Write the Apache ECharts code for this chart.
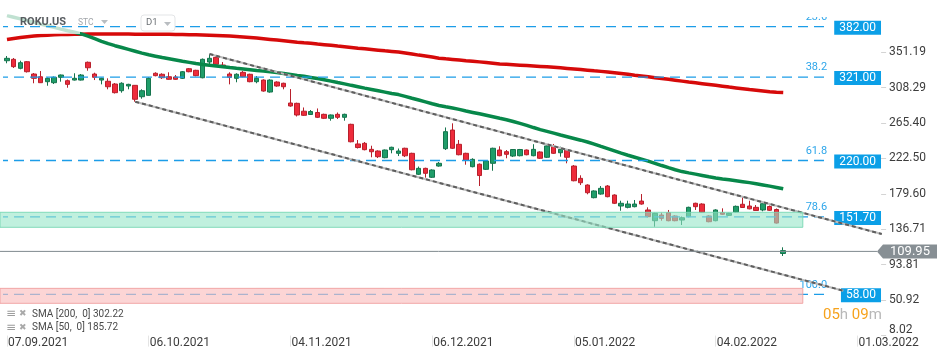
<!DOCTYPE html>
<html><head><meta charset="utf-8">
<script src="https://cdn.jsdelivr.net/npm/echarts@6/dist/echarts.min.js"></script>
<style>html,body{margin:0;padding:0;background:#fff}#c{width:950px;height:360px}</style>
</head><body><div id="c"></div>
<script>
// ---------- DATA ----------
const dates = [
'07.09.2021','08.09.2021','09.09.2021','10.09.2021','13.09.2021','14.09.2021','15.09.2021','16.09.2021','17.09.2021','20.09.2021',
'21.09.2021','22.09.2021','23.09.2021','24.09.2021','27.09.2021','28.09.2021','29.09.2021','30.09.2021','01.10.2021','04.10.2021',
'05.10.2021','06.10.2021','07.10.2021','08.10.2021','11.10.2021','12.10.2021','13.10.2021','14.10.2021','15.10.2021','18.10.2021',
'19.10.2021','20.10.2021','21.10.2021','22.10.2021','25.10.2021','26.10.2021','27.10.2021','28.10.2021','29.10.2021','01.11.2021',
'02.11.2021','03.11.2021','04.11.2021','05.11.2021','08.11.2021','09.11.2021','10.11.2021','11.11.2021','12.11.2021','15.11.2021',
'16.11.2021','17.11.2021','18.11.2021','19.11.2021','22.11.2021','23.11.2021','24.11.2021','26.11.2021','29.11.2021','30.11.2021',
'01.12.2021','02.12.2021','03.12.2021','06.12.2021','07.12.2021','08.12.2021','09.12.2021','10.12.2021','13.12.2021','14.12.2021',
'15.12.2021','16.12.2021','17.12.2021','20.12.2021','21.12.2021','22.12.2021','23.12.2021','27.12.2021','28.12.2021','29.12.2021',
'30.12.2021','31.12.2021','03.01.2022','04.01.2022','05.01.2022','06.01.2022','07.01.2022','10.01.2022','11.01.2022','12.01.2022',
'13.01.2022','14.01.2022','18.01.2022','19.01.2022','20.01.2022','21.01.2022','24.01.2022','25.01.2022','26.01.2022','27.01.2022',
'28.01.2022','31.01.2022','01.02.2022','02.02.2022','03.02.2022','04.02.2022','07.02.2022','08.02.2022','09.02.2022','10.02.2022',
'11.02.2022','14.02.2022','15.02.2022','16.02.2022','17.02.2022','18.02.2022','19.02.2022','20.02.2022','21.02.2022','22.02.2022',
'23.02.2022','24.02.2022','25.02.2022','26.02.2022','27.02.2022','28.02.2022','01.03.2022','02.03.2022','03.03.2022','04.03.2022'];
const xLabelDates = ['07.09.2021','06.10.2021','04.11.2021','06.12.2021','05.01.2022','04.02.2022','01.03.2022'];

const openP = [340.8,342.5,331.6,339.6,324.7,321.4,315.4,314.2,320.7,316.6,
317.4,317.4,338.9,324.7,317.4,315.9,312.6,304.5,310.2,311.0,
297.2,298.9,325.6,324.4,321.4,321.1,319.5,331.1,329.2,320.2,
339.2,344.9,335.6,324.7,319.5,326.8,324.4,315.4,317.4,302.9,
315.0,313.5,289.6,289.2,279.7,275.7,278.1,275.9,271.1,275.9,
272.3,263.8,240.0,240.8,233.5,231.5,223.4,233.1,228.7,234.8,
228.7,203.3,210.5,199.7,213.3,234.3,256.9,239.6,228.7,212.5,
215.5,209.3,216.6,232.7,230.7,225.4,225.8,232.7,225.8,230.3,
223.9,237.0,229.4,232.7,213.3,198.4,190.3,175.0,179.4,189.1,
178.2,164.9,163.3,164.1,170.9,160.1,147.1,154.0,156.8,152.8,
147.9,152.0,168.2,167.3,152.8,147.1,156.8,153.6,157.6,167.0,
164.9,163.3,160.1,164.3,160.7,107.4];
const closeP = [343.7,333.6,338.4,327.5,319.5,314.2,319.5,320.7,323.5,312.2,
319.5,323.5,332.3,320.7,319.5,309.3,302.1,313.5,312.2,294.1,
304.5,319.5,322.7,320.2,318.3,318.3,327.5,327.5,322.7,342.5,
343.7,336.5,333.6,320.7,324.4,321.4,315.4,319.5,304.1,317.4,
310.2,309.3,286.0,275.1,274.7,279.3,272.3,271.1,275.1,272.3,
275.9,242.7,235.7,233.1,230.6,224.6,232.7,236.0,231.5,225.7,
208.8,210.5,204.5,208.5,216.6,254.9,234.8,227.0,220.2,221.4,
201.8,219.4,234.8,225.8,227.5,233.3,233.3,227.0,233.5,222.7,
237.6,228.7,233.5,223.9,195.5,193.1,181.0,183.1,186.3,176.2,
168.2,168.2,167.3,167.3,167.3,152.0,156.1,150.0,147.1,147.1,
150.7,163.3,164.1,157.3,145.9,160.1,154.9,156.1,164.5,163.1,
161.5,159.5,167.7,159.7,144.3,110.9];
const lowP = [337.7,332.0,330.4,326.5,313.5,313.8,310.5,312.6,315.4,308.1,
316.8,316.8,328.7,317.4,312.2,306.2,301.1,302.1,306.2,291.2,
294.8,298.7,321.9,318.7,317.7,317.7,318.7,326.8,321.9,319.5,
335.6,333.6,332.8,312.2,314.7,320.7,314.7,313.5,303.3,302.1,
309.3,306.2,285.1,273.3,273.9,275.1,271.4,270.2,268.2,270.2,
268.2,242.0,234.5,232.3,223.9,223.0,222.7,228.7,225.4,224.2,
208.1,202.4,199.2,198.8,212.5,232.7,233.9,226.3,214.9,211.7,
189.1,208.5,207.6,225.1,222.7,224.2,225.0,226.3,225.1,221.8,
223.0,227.9,224.6,216.6,194.8,190.3,179.1,174.2,178.6,175.4,
167.3,159.2,162.1,163.3,166.5,151.2,139.8,147.1,146.4,146.4,
141.9,151.2,160.1,156.4,145.2,146.4,154.0,152.8,157.0,162.5,
160.9,158.9,158.5,158.9,143.7,104.4];
const highP = [346.5,344.1,340.8,340.4,325.9,328.3,320.5,321.7,324.1,318.1,
325.6,324.7,339.8,326.3,320.2,319.5,313.8,314.7,312.9,311.4,
306.2,320.7,326.8,325.6,326.8,323.5,328.3,332.0,329.8,343.5,
348.9,347.7,339.2,326.8,325.6,328.3,325.1,322.3,318.3,318.3,
315.9,314.2,306.5,290.0,284.2,281.1,283.0,276.7,275.7,278.1,
276.7,264.5,244.8,242.4,237.9,232.3,233.3,236.7,234.5,235.5,
229.4,212.7,211.3,209.3,218.2,260.0,265.0,244.8,229.4,222.7,
216.4,220.2,235.5,237.2,232.7,233.9,234.0,233.3,239.7,231.1,
238.4,240.0,236.7,233.5,214.5,202.1,191.2,183.9,189.1,190.3,
179.1,171.3,171.3,172.2,179.4,163.3,156.8,156.8,160.1,153.6,
152.2,164.1,168.9,168.2,153.6,161.0,162.1,156.8,165.5,177.0,
171.3,166.1,168.5,165.5,161.9,114.9];

const sma200 = [366.5,367.8,368.9,369.9,370.6,371.2,371.7,372.1,372.4,372.6,
372.8,372.9,373.0,373.0,373.1,373.1,373.0,373.0,373.0,372.9,
372.9,372.8,372.8,372.8,372.7,372.6,372.5,372.3,372.1,371.9,
371.6,371.3,371.0,370.7,370.2,369.6,368.9,368.2,367.4,366.6,
365.8,365.0,364.2,363.2,362.5,362.0,361.0,360.2,359.4,358.5,
357.7,356.9,356.0,355.2,354.4,353.6,352.8,352.1,351.4,350.2,
348.9,347.6,346.4,345.2,343.9,343.1,342.4,341.6,340.8,340.1,
339.4,338.6,337.8,336.9,336.4,335.9,335.4,334.9,334.4,333.9,
333.4,332.8,332.2,331.5,330.8,330.1,329.4,328.6,327.9,327.2,
326.3,325.4,324.4,323.3,322.3,321.3,320.3,319.3,318.3,317.2,
316.1,315.0,314.0,313.0,312.0,311.0,310.0,308.9,307.9,306.9,
305.9,305.0,304.1,303.2,302.6,302.2];
const sma50 = [395.5,393.5,391.5,389.4,387.3,385.1,383.2,381.2,379.0,377.0,
375.2,373.2,370.5,367.5,364.3,361.5,359.0,356.8,354.6,352.3,
350.0,348.0,346.3,344.6,343.1,341.6,340.1,338.8,337.4,336.3,
335.4,334.5,333.5,332.5,331.6,330.8,329.9,329.0,328.2,327.4,
326.4,325.3,324.1,322.9,321.9,320.6,319.3,317.8,316.1,314.4,
312.8,311.0,309.3,307.6,306.0,304.4,302.8,301.2,299.8,297.7,
295.4,293.2,291.0,288.7,286.6,285.0,283.5,281.9,279.9,278.2,
276.5,274.7,272.9,271.1,269.4,267.2,264.9,262.5,259.9,257.4,
255.3,253.1,250.9,248.8,246.7,244.6,242.4,239.8,237.0,234.3,
231.6,228.9,226.4,224.0,221.6,219.2,216.6,213.9,211.3,208.8,
206.6,205.0,203.5,201.9,200.3,198.9,197.7,196.6,195.5,194.4,
193.2,191.8,190.4,189.0,187.4,185.7];
const smaLegend = ['SMA [200,  0] 302.22', 'SMA [50,  0] 185.72'];

const yTickLabels = ['8.02','50.92','93.81','136.71','179.60','222.50','265.40','308.29','351.19'];
const yTicks = yTickLabels.map(Number);

const fibPrices = [382.00, 321.00, 220.00, 151.70, 58.00];
const fibRatios = ['23.6', '38.2', '61.8', '78.6', '100.0'];
const fibSpan = [-0.53, 122.0];          // in bar-slot units

const zoneLow  = [139.1, 47.1];
const zoneHigh = [157.3, 65.2];
const zoneSpan = [-0.53, 118.4];

const channelUpper = [[30.5, 348.9], [130.1, 131.0]];
const channelLower = [[19.5, 291.2], [124.4, 62.4]];

const lastPrice = 109.95;
const priceSpan = [-0.53, 129.39];
const countdown = ['05', '09'];

// ---------- CHART ----------
const FONT = 'Roboto, "Noto Sans", sans-serif';
const chart = echarts.init(document.getElementById('c'), null, {renderer: 'canvas', width: 950, height: 360});
const showLabel = (i) => xLabelDates.indexOf(dates[i]) >= 0;
const ohlc = openP.map((o, i) => [o, closeP[i], lowP[i], highP[i]]);
const zoneFill = ['rgba(150,230,200,0.6)', 'rgba(250,190,190,0.65)'];
const zoneStroke = ['rgba(120,215,180,0.9)', 'rgba(240,160,160,0.9)'];

const option = {
  animation: false,
  backgroundColor: '#fff',
  grid: {left: 3.6, top: 16, width: 877.5, height: 319.6, containLabel: false},
  xAxis: [
    {type: 'category', data: dates, boundaryGap: true,
      axisLine: {show: false, onZero: false},
      axisTick: {show: true, alignWithLabel: true, interval: (i) => showLabel(i), length: 11, lineStyle: {color: '#e4e4e4'}},
      axisLabel: {interval: (i) => showLabel(i), align: 'left', margin: 1, color: '#3c3c3c', fontSize: 12, fontFamily: FONT, padding: [0, 0, 0, 1]},
      splitLine: {show: false}},
    {type: 'value', min: 0, max: 130, show: false, axisLine: {onZero: false}}
  ],
  yAxis: {type: 'value', position: 'right', min: 8.02, max: 394.94,
    splitLine: {show: false}, axisLine: {show: false, onZero: false},
    axisTick: {show: true, length: 5, customValues: yTicks, lineStyle: {color: '#d4d4d4'}},
    axisLabel: {customValues: yTicks, margin: 8, color: '#3c3c3c', fontSize: 12, fontFamily: FONT,
      verticalAlignMinLabel: 'bottom',
      formatter: (v) => { const k = yTicks.indexOf(v); return k >= 0 ? yTickLabels[k] : ''; }}},
  series: [
    { // fibonacci levels
      type: 'custom', xAxisIndex: 1, yAxisIndex: 0, z: 3.6, clip: true,
      data: fibPrices.map(p => [fibSpan[0], p]),
      renderItem: (params, api) => {
        const i = params.dataIndex, p = fibPrices[i];
        const a = api.coord([fibSpan[0], p]), b = api.coord([fibSpan[1], p]);
        const cs = params.coordSys, right = cs.x + cs.width;
        return {type: 'group',
          clipPath: {type: 'rect', shape: {x: cs.x - 4, y: cs.y + 1, width: cs.width + 4, height: cs.height}},
          children: [
          {type: 'line', shape: {x1: a[0] - 2, y1: a[1], x2: b[0], y2: b[1]},
            style: {stroke: '#1c9de8', lineWidth: 1.3, lineDash: [10, 6]}},
          {type: 'text', style: {text: fibRatios[i], x: b[0], y: a[1] - 9.5, align: 'right', verticalAlign: 'middle',
            fill: '#2ea6ea', font: '11px ' + FONT}},
          {type: 'text', style: {text: p.toFixed(2), x: right, y: a[1] + 1, align: 'right', verticalAlign: 'middle',
            fill: '#fff', font: '12px ' + FONT, backgroundColor: '#0b9fe7', padding: [1, 5, 1, 5]}}
        ]};
      }
    },
    { type: 'candlestick', xAxisIndex: 0, yAxisIndex: 0, z: 2, data: ohlc, barWidth: 5,
      itemStyle: {color: '#1f9d69', color0: '#ee2b3b', borderColor: '#15744d', borderColor0: '#b8202c', borderWidth: 1}},
    { type: 'line', xAxisIndex: 0, yAxisIndex: 0, z: 3, data: sma200, symbol: 'none', silent: true,
      lineStyle: {color: '#d60a0a', width: 3.5}},
    { type: 'line', xAxisIndex: 0, yAxisIndex: 0, z: 3, data: sma50, symbol: 'none', silent: true,
      lineStyle: {color: '#07884a', width: 3.5}},
    { type: 'line', xAxisIndex: 1, yAxisIndex: 0, z: 4, data: channelUpper, symbol: 'none', lineStyle: {color: '#bdbdbd', width: 2}},
    { type: 'line', xAxisIndex: 1, yAxisIndex: 0, z: 4, data: channelUpper, symbol: 'none', lineStyle: {color: '#5e5e5e', width: 2, type: [4, 3]}},
    { type: 'line', xAxisIndex: 1, yAxisIndex: 0, z: 4, data: channelLower, symbol: 'none', lineStyle: {color: '#bdbdbd', width: 2}},
    { type: 'line', xAxisIndex: 1, yAxisIndex: 0, z: 4, data: channelLower, symbol: 'none', lineStyle: {color: '#5e5e5e', width: 2, type: [4, 3]}},
    { // zones
      type: 'custom', xAxisIndex: 1, yAxisIndex: 0, z: 5, clip: false,
      data: zoneLow.map((l, i) => [zoneSpan[0], l]),
      renderItem: (params, api) => {
        const i = params.dataIndex;
        const p1 = api.coord([zoneSpan[0], zoneHigh[i]]), p2 = api.coord([zoneSpan[1], zoneLow[i]]);
        return {type: 'rect', shape: {x: p1[0], y: p1[1], width: p2[0] - p1[0], height: p2[1] - p1[1]},
          style: {fill: zoneFill[i], stroke: zoneStroke[i], lineWidth: 1}};
      }
    },
    { // last price line + tag
      type: 'custom', xAxisIndex: 1, yAxisIndex: 0, z: 6, clip: false,
      data: [[priceSpan[0], lastPrice]],
      renderItem: (params, api) => {
        const a = api.coord([priceSpan[0], lastPrice]), b = api.coord([priceSpan[1], lastPrice]);
        const y = a[1], x = b[0];
        return {type: 'group', children: [
          {type: 'line', shape: {x1: a[0], y1: y, x2: x, y2: y}, style: {stroke: '#7f898e', lineWidth: 1}},
          {type: 'polygon', shape: {points: [[x, y], [x + 6, y - 7], [x + 60, y - 7], [x + 60, y + 7], [x + 6, y + 7]]},
            style: {fill: '#878f94'}},
          {type: 'text', style: {text: lastPrice.toFixed(2), x: x + 33, y: y + 0.5, align: 'center', verticalAlign: 'middle',
            fill: '#fff', font: '13px ' + FONT}}
        ]};
      }
    }
  ],
  graphic: [
    {type: 'rect', z: 3.5, shape: {x: 0, y: 10, width: 80, height: 24}, style: {fill: 'rgba(255,255,255,0.75)'}},
    {type: 'text', z: 10, x: 20, y: 22, style: {text: 'ROKU.US', font: 'bold 11px ' + FONT, fill: '#585c60', verticalAlign: 'middle'}},
    {type: 'text', z: 10, x: 78, y: 23, style: {text: 'STC', font: '8.5px ' + FONT, fill: '#a3a7ab', verticalAlign: 'middle'}},
    {type: 'polygon', z: 10, shape: {points: [[101, 20], [108, 20], [104.5, 24]]}, style: {fill: '#b9bdc1'}},
    {type: 'rect', z: 10, shape: {x: 141, y: 15, width: 34, height: 16, r: 3}, style: {fill: '#fff', stroke: '#e3e5e7', lineWidth: 1}},
    {type: 'text', z: 11, x: 146, y: 23, style: {text: 'D1', font: '9.5px ' + FONT, fill: '#6d7276', verticalAlign: 'middle'}},
    {type: 'polygon', z: 11, shape: {points: [[164, 22], [171, 22], [167.5, 26]]}, style: {fill: '#b9bdc1'}},
    {type: 'text', z: 10, x: 6, y: 314, style: {text: '≡', font: '12px "DejaVu Sans"', fill: '#9d9d9d', verticalAlign: 'middle'}},
    {type: 'text', z: 10, x: 19, y: 314, style: {text: '✖', font: '9px "DejaVu Sans"', fill: '#a9a9a9', verticalAlign: 'middle'}},
    {type: 'text', z: 10, x: 32, y: 314, style: {text: smaLegend[0], font: '10px ' + FONT, fill: '#4a4a4a', verticalAlign: 'middle'}},
    {type: 'text', z: 10, x: 6, y: 327.5, style: {text: '≡', font: '12px "DejaVu Sans"', fill: '#9d9d9d', verticalAlign: 'middle'}},
    {type: 'text', z: 10, x: 19, y: 327.5, style: {text: '✖', font: '9px "DejaVu Sans"', fill: '#a9a9a9', verticalAlign: 'middle'}},
    {type: 'text', z: 10, x: 32, y: 327.5, style: {text: smaLegend[1], font: '10px ' + FONT, fill: '#4a4a4a', verticalAlign: 'middle'}},
    {type: 'text', z: 10, x: 823, y: 315, style: {
      text: '{o|' + countdown[0] + '}{g|h} {o|' + countdown[1] + '}{g|m}', verticalAlign: 'middle',
      font: '15px ' + FONT,
      rich: {o: {fill: '#f6a21c', fontSize: 15, fontFamily: FONT}, g: {fill: '#b8b8b8', fontSize: 15, fontFamily: FONT}}}}
  ]
};
chart.setOption(option);
</script></body></html>
